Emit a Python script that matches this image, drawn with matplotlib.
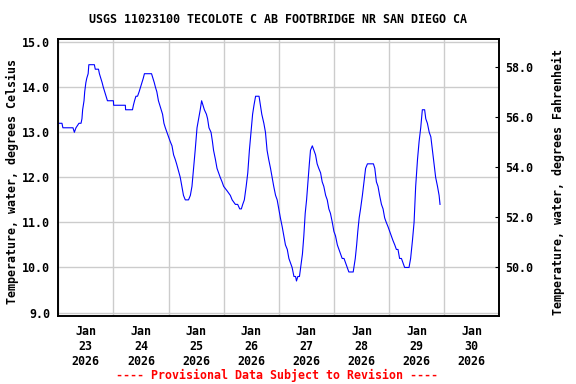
import pandas as pd
import matplotlib
matplotlib.use("Agg")
import matplotlib.pyplot as plt
import matplotlib.dates as mdates
from matplotlib.ticker import FixedLocator, FormatStrFormatter

# hours after 2026-01-23 00:00 and water temperature (deg C)
hours = [0, 1.6, 2.0, 6.4, 7.0, 7.7, 9.0, 9.9, 10.3, 10.6, 11.2, 11.5, 12.0, 12.4, 13.0, 13.3,
         15.7, 16.1, 17.5, 17.9, 18.5, 19.1, 19.6, 20.2, 20.8, 21.4, 24.0, 24.1, 29.2, 29.3,
         32.3, 32.7, 33.2, 33.8, 34.5, 35.2, 35.8, 36.4, 37.0, 37.5, 40.6, 41.2, 41.8, 42.3,
         42.9, 43.6, 44.2, 44.8, 45.4, 46.0, 46.6, 47.3, 48.0, 48.7, 49.5, 50.2, 50.9, 51.5,
         53.1, 53.8, 54.5, 55.3, 56.7, 57.5, 58.2, 58.9, 59.6, 60.4, 61.1, 61.8, 62.4, 63.0,
         63.6, 64.5, 65.0, 65.6, 66.5, 67.1, 67.6, 68.4, 69.1, 69.8, 70.5, 71.3, 72.0, 73.5,
         74.9, 75.7, 77.1, 78.1, 79.0, 79.7, 80.3, 81.0, 81.8, 82.5, 83.2, 83.9, 84.6, 85.2,
         85.9, 87.4, 88.0, 88.6, 89.5, 90.2, 90.9, 91.6, 92.4, 93.1, 93.8, 94.6, 95.3, 96.0,
         96.7, 97.5, 98.2, 98.9, 99.7, 100.4, 101.1, 101.8, 102.6, 103.3, 103.7, 104.3, 105.0,
         105.8, 106.3, 106.9, 107.5, 108.1, 108.7, 109.3, 109.8, 110.6, 111.3, 112.0, 112.7,
         113.4, 114.2, 114.9, 115.6, 116.4, 117.1, 117.8, 118.5, 119.3, 120.0, 120.7, 121.5,
         122.2, 122.9, 123.6, 124.4, 125.1, 125.8, 126.5, 128.4, 128.7, 129.3, 129.9, 130.4,
         131.0, 131.6, 132.4, 133.1, 133.8, 134.6, 137.2, 137.8, 138.5, 139.2, 139.9, 140.7,
         141.4, 142.1, 142.8, 143.6, 144.3, 145.0, 145.7, 146.5, 147.2, 147.9, 148.6, 149.4,
         150.1, 150.8, 151.6, 152.7, 153.4, 154.2, 154.9, 155.6, 156.4, 157.1, 157.8, 158.5,
         159.5, 160.0, 160.7, 161.5, 162.2, 162.9, 163.6, 164.3, 165.1, 165.8, 166.2]
temp_c = [13.2, 13.2, 13.1, 13.1, 13.0, 13.1, 13.2, 13.2, 13.3, 13.5, 13.7, 13.9, 14.1, 14.2, 14.3, 14.5,
          14.5, 14.4, 14.4, 14.3, 14.2, 14.1, 14.0, 13.9, 13.8, 13.7, 13.7, 13.6, 13.6, 13.5,
          13.5, 13.6, 13.7, 13.8, 13.8, 13.9, 14.0, 14.1, 14.2, 14.3, 14.3, 14.2, 14.1, 14.0,
          13.9, 13.7, 13.6, 13.5, 13.4, 13.2, 13.1, 13.0, 12.9, 12.8, 12.7, 12.5, 12.4, 12.3,
          12.0, 11.8, 11.6, 11.5, 11.5, 11.6, 11.8, 12.2, 12.6, 13.1, 13.3, 13.5, 13.7, 13.6,
          13.5, 13.4, 13.3, 13.1, 13.0, 12.8, 12.6, 12.4, 12.2, 12.1, 12.0, 11.9, 11.8, 11.7,
          11.6, 11.5, 11.4, 11.4, 11.3, 11.3, 11.4, 11.5, 11.8, 12.1, 12.6, 13.0, 13.4, 13.6,
          13.8, 13.8, 13.6, 13.4, 13.2, 13.0, 12.6, 12.4, 12.2, 12.0, 11.8, 11.6, 11.5, 11.3,
          11.1, 10.9, 10.7, 10.5, 10.4, 10.2, 10.1, 10.0, 9.8, 9.8, 9.7, 9.8, 9.8,
          10.1, 10.3, 10.7, 11.2, 11.5, 11.9, 12.3, 12.6, 12.7, 12.6, 12.5, 12.3,
          12.2, 12.1, 11.9, 11.8, 11.6, 11.5, 11.3, 11.2, 11.0, 10.8, 10.7, 10.5,
          10.4, 10.3, 10.2, 10.2, 10.1, 10.0, 9.9, 9.9, 10.0, 10.2, 10.5, 10.8,
          11.1, 11.3, 11.6, 11.9, 12.2, 12.3, 12.3, 12.2, 11.9, 11.8, 11.6, 11.4,
          11.3, 11.1, 11.0, 10.9, 10.8, 10.7, 10.6, 10.5, 10.4, 10.4, 10.2, 10.2,
          10.1, 10.0, 10.0, 10.0, 10.2, 10.6, 11.0, 11.8, 12.4, 12.8, 13.1, 13.5,
          13.5, 13.3, 13.2, 13.0, 12.9, 12.6, 12.3, 12.0, 11.8, 11.6, 11.4]

start = pd.Timestamp("2026-01-23")
end = pd.Timestamp("2026-01-31")
times = start + pd.to_timedelta(hours, unit="h")

c_ticks = [9.0, 10.0, 11.0, 12.0, 13.0, 14.0, 15.0]
f_ticks = [50.0, 52.0, 54.0, 56.0, 58.0]
c_lim = (8.93, 15.07)

plt.rcParams["font.family"] = "DejaVu Sans Mono"
plt.rcParams["font.weight"] = "bold"
plt.rcParams["font.size"] = 8.4

fig = plt.figure(figsize=(5.76, 3.84), dpi=100)
ax = fig.add_axes([0.1012, 0.1779, 0.7656, 0.7205])

ax.plot(times, temp_c, color="#0000ff", linewidth=0.8)

ax.set_xlim(start, end)
ax.set_ylim(*c_lim)
ax.set_yticks(c_ticks)
ax.yaxis.set_major_formatter(FormatStrFormatter("%.1f"))
ax.xaxis.set_major_locator(mdates.DayLocator())
ax.xaxis.set_major_formatter(plt.NullFormatter())
ax.xaxis.set_minor_locator(mdates.HourLocator(byhour=[12]))
ax.xaxis.set_minor_formatter(mdates.DateFormatter("%b\n%d\n%Y"))
ax.tick_params(axis="x", which="both", length=0, pad=7)
ax.tick_params(axis="y", length=0, pad=6)
ax.grid(True, which="major", color="#cccccc", linewidth=1)
for s in ax.spines.values():
    s.set_linewidth(1.2)

ax2 = ax.twinx()
ax2.set_ylim(c_lim[0] * 1.8 + 32, c_lim[1] * 1.8 + 32)
ax2.yaxis.set_major_locator(FixedLocator(f_ticks))
ax2.yaxis.set_major_formatter(FormatStrFormatter("%.1f"))
ax2.tick_params(axis="y", direction="in", length=3, pad=4)
for s in ax2.spines.values():
    s.set_linewidth(1.2)

fig.text(12 / 576, 1 - 182 / 384, "Temperature, water, degrees Celsius",
         rotation=90, ha="center", va="center")
fig.text(558 / 576, 1 - 182 / 384, "Temperature, water, degrees Fahrenheit",
         rotation=90, ha="center", va="center")
fig.text(0.483, 0.948, "USGS 11023100 TECOLOTE C AB FOOTBRIDGE NR SAN DIEGO CA",
         ha="center", va="center")
fig.text(0.481, 0.023, "---- Provisional Data Subject to Revision ----",
         ha="center", va="center", color="#ff0000")

fig.savefig("out.png", dpi=100)
